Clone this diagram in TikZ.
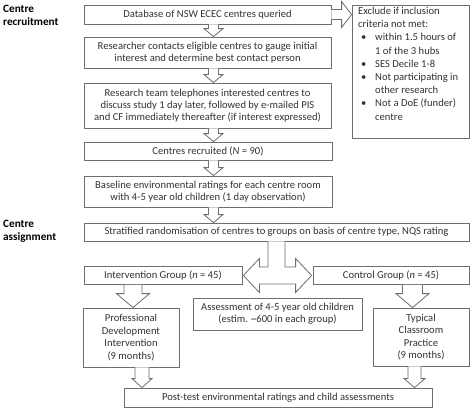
\documentclass[tikz,border=0pt]{standalone}
\usepackage{fontspec}
\setmainfont{Carlito}
\usetikzlibrary{calc}
\definecolor{edge}{HTML}{6E6E6E}
\definecolor{ink}{HTML}{333333}
\tikzset{
  box/.style={draw=edge, line width=0.8pt, fill=white, align=center, inner sep=0pt, text=ink,
              font=\fontsize{10.6}{11.8}\selectfont},
  blk/.style={draw=edge, line width=0.8pt, fill=white, line join=miter},
  sidelabel/.style={anchor=north west, align=left, inner sep=0pt, text=black,
              font=\fontsize{11.2}{12.5}\selectfont\bfseries},
}
% down block arrow: #1 start, #2 end, #3 shaft half width, #4 head half width, #5 head length
\newcommand\dnarrow[5]{%
  \draw[blk] let \p1=(#1), \p2=(#2) in
    (\x1-#3pt,\y1) -- (\x1-#3pt,\y2+#5pt) -- (\x1-#4pt,\y2+#5pt) -- (\x1,\y2)
    -- (\x1+#4pt,\y2+#5pt) -- (\x1+#3pt,\y2+#5pt) -- (\x1+#3pt,\y1);}
\begin{document}
\begin{tikzpicture}[x=1pt,y=-1pt]
\useasboundingbox[fill=white] (0,0) rectangle (472,410);

\node[sidelabel] (lab1) at (3,5) {Centre\\recruitment};
\node[sidelabel] (lab2) at (3,220) {Centre\\assignment};

\node[box, minimum width=247pt, minimum height=19pt] (b1) at (207.5,14.5) {Database of NSW ECEC centres queried};
\node[box, minimum width=247pt, minimum height=31pt] (b2) at (207.5,52.5) {Researcher contacts eligible centres to gauge initial\\interest and determine best contact person};
\node[box, minimum width=247pt, minimum height=45pt] (b3) at (207.5,105.5) {Research team telephones interested centres to\\discuss study 1 day later, followed by e-mailed PIS\\and CF immediately thereafter (if interest expressed)};
\node[box, minimum width=248pt, minimum height=18pt] (b4) at (208,151) {Centres recruited (\textit{N} = 90)};
\node[box, minimum width=248pt, minimum height=31pt] (b5) at (208,191.5) {Baseline environmental ratings for each centre room\\with 4-5 year old children (1 day observation)};
\node[box, minimum width=385pt, minimum height=18pt] (b6) at (276.5,232) {Stratified randomisation of centres to groups on basis of centre type, NQS rating};

\node[box, minimum width=117pt, minimum height=133pt, align=left] (ex) at (410.5,71.5) {};
\node[anchor=north west, inner sep=0pt, text=ink, align=left, font=\fontsize{10.6}{13.2}\selectfont] (extext) at (358,7)
 {Exclude if inclusion\\criteria not met:\\
  \hbox to 17pt{\hskip3pt•\hfil}within 1.5 hours of\\
  \hbox to 17pt{\hfil}1 of the 3 hubs\\
  \hbox to 17pt{\hskip3pt•\hfil}SES Decile 1-8\\
  \hbox to 17pt{\hskip3pt•\hfil}Not participating in\\
  \hbox to 17pt{\hfil}other research\\
  \hbox to 17pt{\hskip3pt•\hfil}Not a DoE (funder)\\
  \hbox to 17pt{\hfil}centre};

\node[box, minimum width=158pt, minimum height=18pt] (ig) at (163,275.5) {Intervention Group (\textit{n} = 45)};
\node[box, minimum width=156pt, minimum height=18pt] (cg) at (391,275.5) {Control Group (\textit{n} = 45)};
\node[box, minimum width=169pt, minimum height=32pt] (as) at (277.5,314) {Assessment of 4-5 year old children\\(estim. \textasciitilde600 in each group)};
\node[box, minimum width=96pt, minimum height=59pt, font=\fontsize{10.6}{12.6}\selectfont] (pd) at (131,337.5) {Professional\\Development\\Intervention\\(9 months)};
\node[box, minimum width=96pt, minimum height=58pt, font=\fontsize{10.6}{12.6}\selectfont] (tc) at (421,337) {Typical\\Classroom\\Practice\\(9 months)};
\node[box, minimum width=308pt, minimum height=19pt] (po) at (278,397.5) {Post-test environmental ratings and child assessments};

% arrows in recruitment column
\dnarrow{$(b1.south)+(6,0)$}{$(b2.north)+(6,0)$}{5}{9.5}{8}
\dnarrow{$(b2.south)+(6,0)$}{$(b3.north)+(6,0)$}{5}{9.5}{8}
\dnarrow{$(b3.south)+(6,0)$}{$(b4.north)+(5.5,0)$}{5}{9.5}{8}
\dnarrow{$(b4.south)+(5.5,0)$}{$(b5.north)+(5.5,0)$}{5}{9.5}{8}
\dnarrow{$(b5.south)+(5.5,0)$}{$(b5.south |- b6.north)+(5.5,0)$}{5}{9.5}{8}

% exclusion arrow
\draw[blk] let \p1=(b1.east), \p2=(ex.west |- b1.east) in
  (\x1,\y1+5pt) -- (\x2-10pt,\y1+5pt) -- (\x2-10pt,\y1+13pt) -- (\x2,\y1)
  -- (\x2-10pt,\y1-13pt) -- (\x2-10pt,\y1-5pt) -- (\x1,\y1-5pt);

% split double arrow
\draw[blk] let \p1=(b6.south), \p2=(ig.east), \p3=(cg.west) in
  (\x1-8.5pt,\y1) -- (\x1-8.5pt,\y2+8.5pt) -- (\x2+17pt,\y2+8.5pt) -- (\x2+17pt,\y2+17pt)
  -- (\x2+1pt,\y2) -- (\x2+17pt,\y2-17pt) -- (\x2+17pt,\y2-8.5pt)
  -- (\x3-17pt,\y2-8.5pt) -- (\x3-17pt,\y2-17pt) -- (\x3-1pt,\y2)
  -- (\x3-17pt,\y2+17pt) -- (\x3-17pt,\y2+8.5pt) -- (\x1+8.5pt,\y2+8.5pt) -- (\x1+8.5pt,\y1);

% group to programme arrows
\dnarrow{$(pd.north |- ig.south)+(2,0)$}{$(pd.north)+(2,0)$}{9}{16.5}{14}
\dnarrow{$(tc.north |- cg.south)+(-8.5,0)$}{$(tc.north)+(-8.5,0)$}{10}{16.5}{14}

% programme to post-test arrows
\dnarrow{$(pd.south)+(11,0)$}{$(pd.south |- po.north)+(11,0)$}{7}{10}{9}
\dnarrow{$(tc.south)+(-6.5,0)$}{$(tc.south |- po.north)+(-6.5,0)$}{6.5}{10.5}{9}
\end{tikzpicture}
\end{document}
